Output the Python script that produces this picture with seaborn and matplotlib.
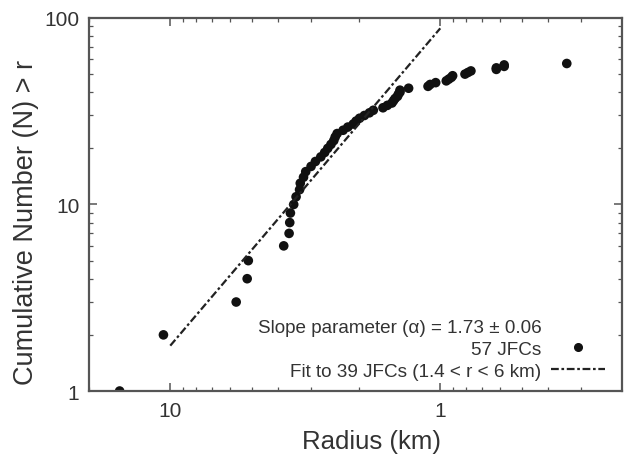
import numpy as np
import pandas as pd
import matplotlib
matplotlib.use("Agg")
import matplotlib.pyplot as plt
import seaborn as sns
from matplotlib.ticker import FuncFormatter, LogLocator
from matplotlib.lines import Line2D

# radii (km) of the 57 JFCs, largest first; cumulative count is the rank
radius = [15.4, 10.6, 5.70, 5.19, 5.14, 3.80, 3.63, 3.61, 3.59, 3.49,
          3.42, 3.32, 3.30, 3.21, 3.15, 3.01, 2.90, 2.77, 2.68, 2.61,
          2.54, 2.48, 2.45, 2.41, 2.29, 2.20, 2.10, 2.05, 1.99, 1.91,
          1.83, 1.77, 1.63, 1.57, 1.51, 1.49, 1.47, 1.44, 1.43, 1.41,
          1.41, 1.31, 1.11, 1.09, 1.04, 0.95, 0.93, 0.91, 0.90, 0.81,
          0.79, 0.77, 0.62, 0.62, 0.58, 0.58, 0.34]
cum_n = list(range(1, len(radius) + 1))

# power-law fit endpoints
fit_r = [10.0, 1.0]
fit_n = [1.75, 88.0]

slope_label = "Slope parameter (α) = 1.73 ± 0.06"
pts_label = "57 JFCs"
fit_label = "Fit to 39 JFCs (1.4 < r < 6 km)"

df = pd.DataFrame({"Radius": radius, "N": cum_n})
fit_df = pd.DataFrame({"Radius": fit_r, "N": fit_n})

sns.set_style("ticks")
plt.rcParams["font.family"] = ["Liberation Sans", "DejaVu Sans"]

txt = "#333333"
fig = plt.figure(figsize=(6.28, 4.6), dpi=100)
ax = fig.add_axes([0.1417, 0.1478, 0.849, 0.811])

dash = (0, (3.5, 1.2, 1.2, 1.2))
ax.plot(fit_df["Radius"], fit_df["N"], color="#222222", lw=1.6, linestyle=dash)
sns.scatterplot(data=df, x="Radius", y="N", ax=ax, color="#111111", s=48,
                edgecolor="none", legend=False)

ax.set_xscale("log")
ax.set_yscale("log")
ax.set_xlim(20, 0.212)
ax.set_ylim(1, 100)

fmt = FuncFormatter(lambda v, p: "%g" % v)
ax.xaxis.set_major_formatter(fmt)
ax.yaxis.set_major_formatter(fmt)
ax.xaxis.set_minor_locator(LogLocator(base=10, subs=np.arange(2, 10)))
ax.yaxis.set_minor_locator(LogLocator(base=10, subs=np.arange(2, 10)))
ax.xaxis.set_minor_formatter(FuncFormatter(lambda v, p: ""))
ax.yaxis.set_minor_formatter(FuncFormatter(lambda v, p: ""))

ax.tick_params(which="both", direction="in", top=True, right=True,
               colors="#555555", labelcolor=txt, labelsize=15)
ax.tick_params(which="major", length=6, width=1.1, pad=7)
ax.tick_params(which="minor", length=3, width=0.9)
for s in ax.spines.values():
    s.set_color("#555555")
    s.set_linewidth(1.6)

ax.set_xlabel("Radius (km)", fontsize=18.5, color=txt, labelpad=7, x=0.53)
ax.set_ylabel("Cumulative Number (N) > r", fontsize=19.5, color=txt, labelpad=4, y=0.455)

handles = [Line2D([], [], linestyle="none", marker=None),
           Line2D([], [], linestyle="none", marker="o", color="#111111", markersize=5.5),
           Line2D([], [], color="#222222", lw=1.6, linestyle=dash)]
leg = ax.legend(handles, [slope_label, pts_label, fit_label], loc="lower right",
                frameon=False, markerfirst=False, fontsize=13.6, handlelength=2.9,
                handletextpad=0.5, labelspacing=0.25, borderaxespad=0.2,
                bbox_to_anchor=(0.99, 0.0))
for t in leg.get_texts():
    t.set_color(txt)
    t.set_ha("right")
leg._legend_box.align = "right"

fig.savefig("out.png", dpi=100)
